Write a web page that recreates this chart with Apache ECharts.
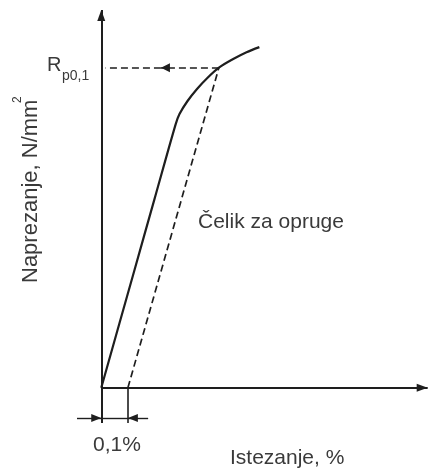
<!DOCTYPE html>
<html>
<head>
<meta charset="utf-8">
<script src="https://cdn.jsdelivr.net/npm/echarts@6/dist/echarts.min.js"></script>
<style>
html,body{margin:0;padding:0;background:#fff;}
#main{width:429px;height:470px;}
</style>
</head>
<body>
<div id="main"></div>
<script>
// Stress-strain curve (strain in %, stress in % of Rp0,1)
const strain = [0, 0.12, 0.2, 0.2788, 0.2936, 0.3232, 0.3602, 0.3972, 0.4416, 0.4934, 0.5452, 0.5934];
const stress = [0, 35.4, 59.0, 82.2, 85.5, 89.5, 93.4, 96.7, 100, 102.6, 104.8, 106.4];
// Offset (0,1 %) line parallel to elastic part
const offsetStrain = [0.1, 0.4416];
const offsetStress = [0, 100];
// Proof stress level and its arrow position
const proofStress = 100;
const proofStrain = 0.4416;
const proofArrowStrain = 0.224;
const proofLineStart = 0.016;
// Offset value marked under the axis
const offsetValue = 0.1;
// Axis extents
const xAxisEnd = 1.225;
const yAxisTop = 118;
const yAxisBottom = -11;
const dimLevel = -9.44;
const dimLeft = -0.091;
const dimRight = 0.176;
// Texts
const yTitle = 'Naprezanje, N/mm';
const yTitleSup = '2';
const xTitle = 'Istezanje, %';
const offsetLabel = '0,1%';
const materialLabel = 'Čelik za opruge';
const proofMain = 'R';
const proofSub = 'p0,1';

const chart = echarts.init(document.getElementById('main'));
const black = '#1e1e1e';
const txt = '#3a3a3a';
const font = 'Liberation Sans, Arial, sans-serif';

function seg(a, b, opts) {
  opts = opts || {};
  const from = {coord: a, symbol: 'none'};
  const to = {coord: b, symbol: 'none'};
  if (opts.arrow) {
    to.symbol = 'triangle';
    to.symbolSize = opts.arrow;
    to.symbolOffset = [0, opts.arrow[1] / 2];
  }
  const item = [from, to];
  from.lineStyle = {color: black, width: opts.width || 1.6, type: opts.dashed ? [7, 4] : 'solid', opacity: 1};
  return item;
}

const markData = [
  // y axis
  seg([0, yAxisBottom], [0, yAxisTop], {arrow: [8, 11], width: 2}),
  // x axis
  seg([0, 0], [xAxisEnd, 0], {arrow: [8, 11], width: 2}),
  // offset tick
  seg([offsetValue, 0], [offsetValue, yAxisBottom], {width: 1.6}),
  // dimension line
  seg([dimLeft, dimLevel], [0, dimLevel], {arrow: [8, 10], width: 1.4}),
  seg([dimRight, dimLevel], [offsetValue, dimLevel], {arrow: [8, 10], width: 1.4}),
  seg([0, dimLevel], [offsetValue, dimLevel], {width: 1.4}),
  // proof stress horizontal dashed with arrow
  seg([proofStrain, proofStress], [proofArrowStrain, proofStress], {arrow: [9, 9], width: 1.7, dashed: true}),
  seg([proofArrowStrain, proofStress], [proofLineStart, proofStress], {width: 1.7, dashed: true})
];

const option = {
  animation: false,
  grid: {left: 0, right: -6, top: 10, bottom: 47},
  xAxis: {type: 'value', min: -0.38, max: 1.23, show: false},
  yAxis: {type: 'value', min: yAxisBottom, max: yAxisTop, show: false},
  series: [
    {
      type: 'line',
      data: strain.map((x, i) => [x, stress[i]]),
      smooth: 0.3,
      showSymbol: false,
      clip: false,
      lineStyle: {color: black, width: 2.2},
      silent: true,
      markLine: {
        silent: true,
        animation: false,
        label: {show: false},
        emphasis: {disabled: true},
        symbol: ['none', 'none'],
        lineStyle: {color: black},
        data: markData
      }
    },
    {
      type: 'line',
      data: offsetStrain.map((x, i) => [x, offsetStress[i]]),
      showSymbol: false,
      clip: false,
      silent: true,
      lineStyle: {color: black, width: 1.7, type: [7, 4]}
    }
  ],
  graphic: [
    {type: 'text', x: 31, y: 283, rotation: Math.PI / 2, silent: true,
      style: {text: yTitle, fontSize: 22, fontFamily: font, fill: txt, align: 'left', verticalAlign: 'middle'}},
    {type: 'text', x: 18, y: 103, rotation: Math.PI / 2, silent: true,
      style: {text: yTitleSup, fontSize: 12, fontFamily: font, fill: txt, align: 'left', verticalAlign: 'middle'}},
    {type: 'text', x: 230, y: 458, silent: true,
      style: {text: xTitle, fontSize: 21, fontFamily: font, fill: txt, align: 'left', verticalAlign: 'middle'}},
    {type: 'text', x: 93, y: 445, silent: true,
      style: {text: offsetLabel, fontSize: 21, fontFamily: font, fill: txt, align: 'left', verticalAlign: 'middle'}},
    {type: 'text', x: 198, y: 222, silent: true,
      style: {text: materialLabel, fontSize: 21, fontFamily: font, fill: txt, align: 'left', verticalAlign: 'middle'}},
    {type: 'text', x: 47, y: 65, silent: true,
      style: {text: proofMain, fontSize: 20, fontFamily: font, fill: txt, align: 'left', verticalAlign: 'middle'}},
    {type: 'text', x: 62, y: 76, silent: true,
      style: {text: proofSub, fontSize: 14, fontFamily: font, fill: txt, align: 'left', verticalAlign: 'middle'}}
  ]
};
chart.setOption(option);
</script>
</body>
</html>
